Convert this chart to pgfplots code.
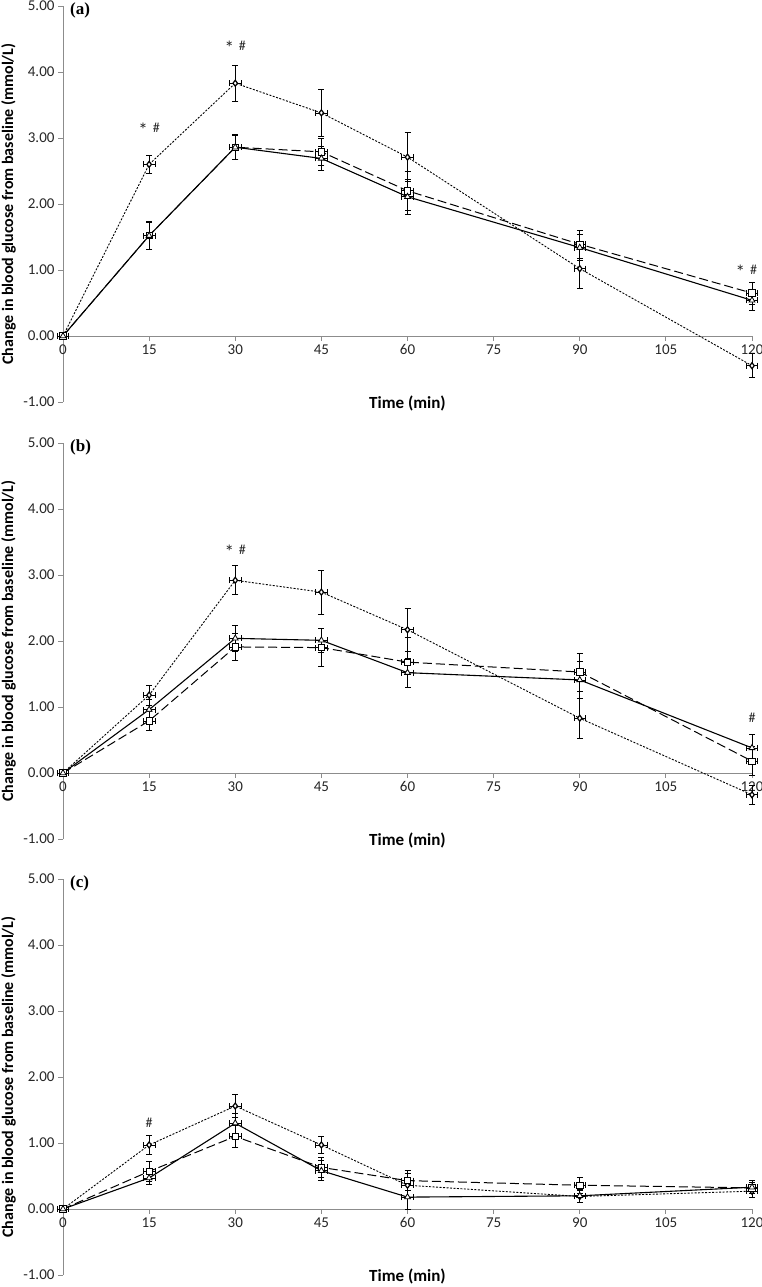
\documentclass[border=0pt]{standalone}
\usepackage{fontspec}
\setmainfont{Carlito}
\newfontfamily\panelfont{Liberation Serif}
\usepackage{pgfplots}
\usepackage{pgfplotstable}
\pgfplotsset{compat=1.18}
\definecolor{axisgray}{HTML}{8C8C8C}

% t = min, d = dotted/diamond, s = dashed/square, r = solid/triangle, *e = error
\pgfplotstableread{
t   d     de    s     se    r     re
0   0     0     0     0     0     0
15  2.60  0.13  1.52  0.21  1.52  0.20
30  3.83  0.27  2.86  0.19  2.86  0.18
45  3.38  0.36  2.79  0.20  2.69  0.18
60  2.71  0.37  2.20  0.30  2.11  0.27
90  1.02  0.30  1.39  0.21  1.34  0.20
120 -0.45 0.18  0.65  0.17  0.54  0.15
}\panelA
\pgfplotstableread{
t   d     de    s     se    r     re
0   0     0     0     0     0     0
15  1.18  0.15  0.79  0.15  0.96  0.15
30  2.92  0.22  1.91  0.20  2.04  0.20
45  2.74  0.33  1.90  0.29  2.01  0.18
60  2.17  0.33  1.68  0.38  1.52  0.22
90  0.83  0.30  1.53  0.29  1.41  0.28
120 -0.33 0.15  0.18  0.22  0.38  0.21
}\panelB
\pgfplotstableread{
t   d     de    s     se    r     re
0   0     0     0     0     0     0
15  0.97  0.14  0.57  0.15  0.47  0.10
30  1.56  0.17  1.10  0.16  1.30  0.15
45  0.97  0.13  0.63  0.15  0.58  0.15
60  0.36  0.18  0.43  0.15  0.18  0.19
90  0.19  0.09  0.36  0.12  0.20  0.10
120 0.27  0.10  0.32  0.09  0.33  0.10
}\panelC

\pgfplotsset{
  gluc/.style={
    scale only axis, width=689pt, height=396pt,
    xmin=0, xmax=120, ymin=-1, ymax=5,
    enlargelimits=false, clip=false,
    axis y line*=left, axis x line*=middle,
    hide obscured x ticks=false, hide obscured y ticks=false,
    xtick={0,15,...,120}, ytick={-1,0,...,5},
    axis line style={draw=axisgray, line width=0.9pt},
    tick style={draw=axisgray, line width=0.9pt},
    tick align=outside, major tick length=5pt,
    ticklabel style={font=\fontsize{15}{17}\selectfont, text=black!85},
    yticklabel style={/pgf/number format/.cd, fixed, fixed zerofill, precision=2},
    /pgf/number format/assume math mode=true,
    xlabel={Time (min)},
    ylabel={Change in blood glucose from baseline (mmol/L)},
    xlabel style={font=\bfseries\fontsize{17}{19}\selectfont,
      at={(axis description cs:0.5,0)}, anchor=center, yshift=-1pt},
    ylabel style={font=\bfseries\fontsize{16}{18}\selectfont,
      at={([xshift=-54.5pt]axis description cs:0,0.5)}, anchor=center},
    error bars/error bar style={solid, line width=0.7pt, black},
    error bars/error mark options={solid, line width=0.7pt, mark size=3pt, rotate=90},
  },
  dotS/.style={black, line width=0.9pt, dash pattern=on 2pt off 1.5pt,
    mark=diamond*, mark size=3pt, mark options={solid, fill=white, line width=1.2pt}},
  dashS/.style={black, line width=1pt, dash pattern=on 9pt off 4pt,
    mark=square*, mark size=3.2pt, mark options={solid, fill=white, line width=0.8pt}},
  solidS/.style={black, line width=1.1pt, solid,
    mark=triangle*, mark size=3.4pt, mark options={solid, fill=white, line width=0.8pt}},
  ebars/.style={error bars/.cd, x dir=both, x fixed=1, y dir=both, y explicit},
}

\newcommand{\threeseries}[1]{%
  \addplot+[dotS, ebars] table[x=t, y=d, y error=de] {#1};
  \addplot+[dashS, ebars] table[x=t, y=s, y error=se] {#1};
  \addplot+[solidS, ebars] table[x=t, y=r, y error=re] {#1};
}
\newcommand{\lowast}{\raisebox{-4pt}{\fontsize{19}{19}\selectfont *}}
\newcommand{\sig}{\lowast\hspace{5pt}\#}

\begin{document}
\begin{tikzpicture}
\useasboundingbox (0,0) rectangle (761pt,1287pt);
\tikzset{ann/.style={font=\fontsize{14}{15}\selectfont, text=black!85},
  plab/.style={font=\panelfont\bfseries\fontsize{17}{18}\selectfont, anchor=north west, inner sep=0pt}}

\begin{axis}[gluc, at={(63pt,885pt)}, anchor=south west]
\threeseries{\panelA}
\node[ann] at (axis cs:15,3.12) {\sig};
\node[ann] at (axis cs:30,4.36) {\sig};
\node[ann] at (axis cs:119,0.97) {\sig};
\node[plab] at ([xshift=7pt,yshift=3pt]rel axis cs:0,1) {(a)};
\end{axis}

\begin{axis}[gluc, at={(63pt,448pt)}, anchor=south west]
\threeseries{\panelB}
\node[ann] at (axis cs:30,3.35) {\sig};
\node[ann] at (axis cs:120,0.83) {\#};
\node[plab] at ([xshift=7pt,yshift=3pt]rel axis cs:0,1) {(b)};
\end{axis}

\begin{axis}[gluc, at={(63pt,12pt)}, anchor=south west]
\threeseries{\panelC}
\node[ann] at (axis cs:15,1.30) {\#};
\node[plab] at ([xshift=7pt,yshift=3pt]rel axis cs:0,1) {(c)};
\end{axis}
\end{tikzpicture}
\end{document}
